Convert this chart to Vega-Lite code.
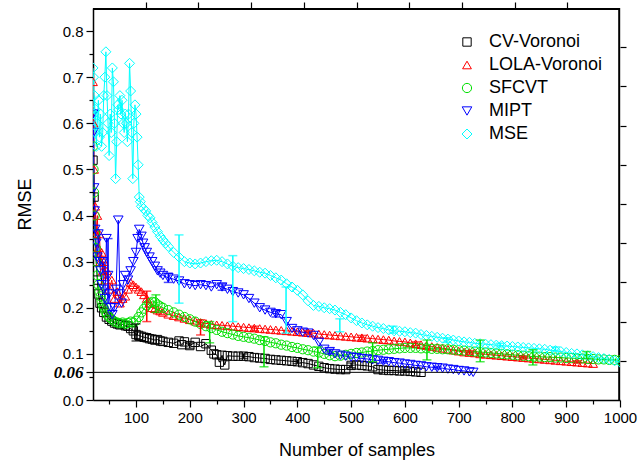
{
"$schema":"https://vega.github.io/schema/vega-lite/v6.json",
"width":527,"height":392,
"autosize":{"type":"none"},
"padding":{"left":93,"top":8,"right":24,"bottom":66},
"config":{"font":"Liberation Sans","view":{"stroke":null},"axis":{"domainColor":"black","tickColor":"black","labelColor":"black","titleColor":"black","domainWidth":1.5,"tickWidth":1.2,"grid":false}},
"datasets":{
"pts":[
{"s":"CV-Voronoi","n":20,"r":0.52},{"s":"CV-Voronoi","n":22,"r":0.44},{"s":"CV-Voronoi","n":24,"r":0.36},{"s":"CV-Voronoi","n":26,"r":0.3},{"s":"CV-Voronoi","n":28,"r":0.26},{"s":"CV-Voronoi","n":30,"r":0.23},{"s":"CV-Voronoi","n":33,"r":0.21},{"s":"CV-Voronoi","n":36,"r":0.2},{"s":"CV-Voronoi","n":40,"r":0.19},{"s":"CV-Voronoi","n":45,"r":0.18},{"s":"CV-Voronoi","n":50,"r":0.175},{"s":"CV-Voronoi","n":55,"r":0.171},{"s":"CV-Voronoi","n":60,"r":0.167},{"s":"CV-Voronoi","n":65,"r":0.165},{"s":"CV-Voronoi","n":70,"r":0.163},{"s":"CV-Voronoi","n":75,"r":0.164},{"s":"CV-Voronoi","n":80,"r":0.161},{"s":"CV-Voronoi","n":85,"r":0.16},{"s":"CV-Voronoi","n":90,"r":0.155},{"s":"CV-Voronoi","n":95,"r":0.15},{"s":"CV-Voronoi","n":100,"r":0.142},{"s":"CV-Voronoi","n":105,"r":0.14},{"s":"CV-Voronoi","n":110,"r":0.138},{"s":"CV-Voronoi","n":115,"r":0.136},{"s":"CV-Voronoi","n":120,"r":0.135},{"s":"CV-Voronoi","n":125,"r":0.133},{"s":"CV-Voronoi","n":130,"r":0.132},{"s":"CV-Voronoi","n":135,"r":0.13},{"s":"CV-Voronoi","n":140,"r":0.131},{"s":"CV-Voronoi","n":145,"r":0.128},{"s":"CV-Voronoi","n":150,"r":0.127},{"s":"CV-Voronoi","n":160,"r":0.125},{"s":"CV-Voronoi","n":170,"r":0.123},{"s":"CV-Voronoi","n":180,"r":0.128},{"s":"CV-Voronoi","n":185,"r":0.12},{"s":"CV-Voronoi","n":190,"r":0.126},{"s":"CV-Voronoi","n":200,"r":0.118},{"s":"CV-Voronoi","n":210,"r":0.125},{"s":"CV-Voronoi","n":220,"r":0.116},{"s":"CV-Voronoi","n":230,"r":0.122},{"s":"CV-Voronoi","n":240,"r":0.108},{"s":"CV-Voronoi","n":245,"r":0.1},{"s":"CV-Voronoi","n":250,"r":0.098},{"s":"CV-Voronoi","n":255,"r":0.082},{"s":"CV-Voronoi","n":260,"r":0.097},{"s":"CV-Voronoi","n":265,"r":0.076},{"s":"CV-Voronoi","n":270,"r":0.096},{"s":"CV-Voronoi","n":280,"r":0.095},{"s":"CV-Voronoi","n":290,"r":0.095},{"s":"CV-Voronoi","n":300,"r":0.095},{"s":"CV-Voronoi","n":310,"r":0.094},{"s":"CV-Voronoi","n":320,"r":0.092},{"s":"CV-Voronoi","n":330,"r":0.091},{"s":"CV-Voronoi","n":340,"r":0.09},{"s":"CV-Voronoi","n":350,"r":0.088},{"s":"CV-Voronoi","n":360,"r":0.087},{"s":"CV-Voronoi","n":370,"r":0.086},{"s":"CV-Voronoi","n":380,"r":0.085},{"s":"CV-Voronoi","n":390,"r":0.084},{"s":"CV-Voronoi","n":400,"r":0.083},{"s":"CV-Voronoi","n":410,"r":0.081},{"s":"CV-Voronoi","n":420,"r":0.079},{"s":"CV-Voronoi","n":430,"r":0.076},{"s":"CV-Voronoi","n":440,"r":0.073},{"s":"CV-Voronoi","n":450,"r":0.07},{"s":"CV-Voronoi","n":460,"r":0.068},{"s":"CV-Voronoi","n":470,"r":0.067},{"s":"CV-Voronoi","n":480,"r":0.066},{"s":"CV-Voronoi","n":490,"r":0.066},{"s":"CV-Voronoi","n":500,"r":0.075},{"s":"CV-Voronoi","n":510,"r":0.076},{"s":"CV-Voronoi","n":520,"r":0.075},{"s":"CV-Voronoi","n":530,"r":0.074},{"s":"CV-Voronoi","n":540,"r":0.072},{"s":"CV-Voronoi","n":550,"r":0.066},{"s":"CV-Voronoi","n":560,"r":0.065},{"s":"CV-Voronoi","n":570,"r":0.064},{"s":"CV-Voronoi","n":580,"r":0.064},{"s":"CV-Voronoi","n":590,"r":0.063},{"s":"CV-Voronoi","n":600,"r":0.063},{"s":"CV-Voronoi","n":610,"r":0.062},{"s":"CV-Voronoi","n":620,"r":0.061},{"s":"CV-Voronoi","n":630,"r":0.06},
{"s":"LOLA-Voronoi","n":20,"r":0.69},{"s":"LOLA-Voronoi","n":21,"r":0.6},{"s":"LOLA-Voronoi","n":22,"r":0.5},{"s":"LOLA-Voronoi","n":24,"r":0.42},{"s":"LOLA-Voronoi","n":26,"r":0.36},{"s":"LOLA-Voronoi","n":28,"r":0.4},{"s":"LOLA-Voronoi","n":30,"r":0.33},{"s":"LOLA-Voronoi","n":32,"r":0.36},{"s":"LOLA-Voronoi","n":34,"r":0.3},{"s":"LOLA-Voronoi","n":36,"r":0.32},{"s":"LOLA-Voronoi","n":38,"r":0.28},{"s":"LOLA-Voronoi","n":40,"r":0.3},{"s":"LOLA-Voronoi","n":43,"r":0.26},{"s":"LOLA-Voronoi","n":46,"r":0.28},{"s":"LOLA-Voronoi","n":50,"r":0.24},{"s":"LOLA-Voronoi","n":55,"r":0.26},{"s":"LOLA-Voronoi","n":60,"r":0.22},{"s":"LOLA-Voronoi","n":65,"r":0.235},{"s":"LOLA-Voronoi","n":70,"r":0.21},{"s":"LOLA-Voronoi","n":75,"r":0.22},{"s":"LOLA-Voronoi","n":80,"r":0.225},{"s":"LOLA-Voronoi","n":85,"r":0.24},{"s":"LOLA-Voronoi","n":90,"r":0.255},{"s":"LOLA-Voronoi","n":95,"r":0.25},{"s":"LOLA-Voronoi","n":100,"r":0.245},{"s":"LOLA-Voronoi","n":105,"r":0.24},{"s":"LOLA-Voronoi","n":110,"r":0.235},{"s":"LOLA-Voronoi","n":115,"r":0.228},{"s":"LOLA-Voronoi","n":120,"r":0.22},{"s":"LOLA-Voronoi","n":125,"r":0.21},{"s":"LOLA-Voronoi","n":130,"r":0.2},{"s":"LOLA-Voronoi","n":135,"r":0.198},{"s":"LOLA-Voronoi","n":140,"r":0.195},{"s":"LOLA-Voronoi","n":145,"r":0.193},{"s":"LOLA-Voronoi","n":150,"r":0.19},{"s":"LOLA-Voronoi","n":160,"r":0.186},{"s":"LOLA-Voronoi","n":170,"r":0.183},{"s":"LOLA-Voronoi","n":180,"r":0.18},{"s":"LOLA-Voronoi","n":190,"r":0.177},{"s":"LOLA-Voronoi","n":200,"r":0.174},{"s":"LOLA-Voronoi","n":210,"r":0.171},{"s":"LOLA-Voronoi","n":220,"r":0.168},{"s":"LOLA-Voronoi","n":230,"r":0.166},{"s":"LOLA-Voronoi","n":240,"r":0.164},{"s":"LOLA-Voronoi","n":250,"r":0.163},{"s":"LOLA-Voronoi","n":260,"r":0.162},{"s":"LOLA-Voronoi","n":270,"r":0.161},{"s":"LOLA-Voronoi","n":280,"r":0.16},{"s":"LOLA-Voronoi","n":290,"r":0.159},{"s":"LOLA-Voronoi","n":300,"r":0.158},{"s":"LOLA-Voronoi","n":310,"r":0.157},{"s":"LOLA-Voronoi","n":320,"r":0.156},{"s":"LOLA-Voronoi","n":330,"r":0.155},{"s":"LOLA-Voronoi","n":340,"r":0.154},{"s":"LOLA-Voronoi","n":350,"r":0.153},{"s":"LOLA-Voronoi","n":360,"r":0.152},{"s":"LOLA-Voronoi","n":370,"r":0.151},{"s":"LOLA-Voronoi","n":380,"r":0.15},{"s":"LOLA-Voronoi","n":390,"r":0.149},{"s":"LOLA-Voronoi","n":400,"r":0.148},{"s":"LOLA-Voronoi","n":410,"r":0.147},{"s":"LOLA-Voronoi","n":420,"r":0.146},{"s":"LOLA-Voronoi","n":430,"r":0.145},{"s":"LOLA-Voronoi","n":440,"r":0.143},{"s":"LOLA-Voronoi","n":450,"r":0.142},{"s":"LOLA-Voronoi","n":460,"r":0.141},{"s":"LOLA-Voronoi","n":470,"r":0.14},{"s":"LOLA-Voronoi","n":480,"r":0.139},{"s":"LOLA-Voronoi","n":490,"r":0.138},{"s":"LOLA-Voronoi","n":500,"r":0.137},{"s":"LOLA-Voronoi","n":510,"r":0.136},{"s":"LOLA-Voronoi","n":520,"r":0.135},{"s":"LOLA-Voronoi","n":530,"r":0.134},{"s":"LOLA-Voronoi","n":540,"r":0.133},{"s":"LOLA-Voronoi","n":550,"r":0.132},{"s":"LOLA-Voronoi","n":560,"r":0.131},{"s":"LOLA-Voronoi","n":570,"r":0.13},{"s":"LOLA-Voronoi","n":580,"r":0.128},{"s":"LOLA-Voronoi","n":590,"r":0.127},{"s":"LOLA-Voronoi","n":600,"r":0.126},{"s":"LOLA-Voronoi","n":610,"r":0.124},{"s":"LOLA-Voronoi","n":620,"r":0.122},{"s":"LOLA-Voronoi","n":630,"r":0.12},{"s":"LOLA-Voronoi","n":640,"r":0.118},{"s":"LOLA-Voronoi","n":650,"r":0.116},{"s":"LOLA-Voronoi","n":660,"r":0.114},{"s":"LOLA-Voronoi","n":670,"r":0.112},{"s":"LOLA-Voronoi","n":680,"r":0.11},{"s":"LOLA-Voronoi","n":690,"r":0.108},{"s":"LOLA-Voronoi","n":700,"r":0.106},{"s":"LOLA-Voronoi","n":710,"r":0.104},{"s":"LOLA-Voronoi","n":720,"r":0.103},{"s":"LOLA-Voronoi","n":730,"r":0.102},{"s":"LOLA-Voronoi","n":740,"r":0.1},{"s":"LOLA-Voronoi","n":750,"r":0.099},{"s":"LOLA-Voronoi","n":760,"r":0.098},{"s":"LOLA-Voronoi","n":770,"r":0.097},{"s":"LOLA-Voronoi","n":780,"r":0.096},{"s":"LOLA-Voronoi","n":790,"r":0.095},{"s":"LOLA-Voronoi","n":800,"r":0.094},{"s":"LOLA-Voronoi","n":810,"r":0.093},{"s":"LOLA-Voronoi","n":820,"r":0.092},{"s":"LOLA-Voronoi","n":830,"r":0.091},{"s":"LOLA-Voronoi","n":840,"r":0.09},{"s":"LOLA-Voronoi","n":850,"r":0.089},{"s":"LOLA-Voronoi","n":860,"r":0.088},{"s":"LOLA-Voronoi","n":870,"r":0.087},{"s":"LOLA-Voronoi","n":880,"r":0.086},{"s":"LOLA-Voronoi","n":890,"r":0.085},{"s":"LOLA-Voronoi","n":900,"r":0.084},{"s":"LOLA-Voronoi","n":910,"r":0.083},{"s":"LOLA-Voronoi","n":920,"r":0.082},{"s":"LOLA-Voronoi","n":930,"r":0.081},{"s":"LOLA-Voronoi","n":940,"r":0.08},{"s":"LOLA-Voronoi","n":950,"r":0.079},
{"s":"SFCVT","n":20,"r":0.55},{"s":"SFCVT","n":21,"r":0.5},{"s":"SFCVT","n":22,"r":0.45},{"s":"SFCVT","n":23,"r":0.4},{"s":"SFCVT","n":24,"r":0.36},{"s":"SFCVT","n":25,"r":0.33},{"s":"SFCVT","n":26,"r":0.3},{"s":"SFCVT","n":28,"r":0.27},{"s":"SFCVT","n":30,"r":0.25},{"s":"SFCVT","n":32,"r":0.235},{"s":"SFCVT","n":34,"r":0.225},{"s":"SFCVT","n":36,"r":0.215},{"s":"SFCVT","n":38,"r":0.205},{"s":"SFCVT","n":40,"r":0.2},{"s":"SFCVT","n":43,"r":0.192},{"s":"SFCVT","n":46,"r":0.185},{"s":"SFCVT","n":50,"r":0.18},{"s":"SFCVT","n":55,"r":0.175},{"s":"SFCVT","n":60,"r":0.17},{"s":"SFCVT","n":65,"r":0.168},{"s":"SFCVT","n":70,"r":0.166},{"s":"SFCVT","n":75,"r":0.168},{"s":"SFCVT","n":80,"r":0.165},{"s":"SFCVT","n":85,"r":0.167},{"s":"SFCVT","n":90,"r":0.17},{"s":"SFCVT","n":95,"r":0.168},{"s":"SFCVT","n":100,"r":0.172},{"s":"SFCVT","n":105,"r":0.18},{"s":"SFCVT","n":110,"r":0.19},{"s":"SFCVT","n":115,"r":0.198},{"s":"SFCVT","n":120,"r":0.205},{"s":"SFCVT","n":125,"r":0.21},{"s":"SFCVT","n":130,"r":0.213},{"s":"SFCVT","n":135,"r":0.212},{"s":"SFCVT","n":140,"r":0.207},{"s":"SFCVT","n":145,"r":0.203},{"s":"SFCVT","n":150,"r":0.2},{"s":"SFCVT","n":160,"r":0.195},{"s":"SFCVT","n":170,"r":0.19},{"s":"SFCVT","n":180,"r":0.185},{"s":"SFCVT","n":190,"r":0.18},{"s":"SFCVT","n":200,"r":0.175},{"s":"SFCVT","n":210,"r":0.17},{"s":"SFCVT","n":220,"r":0.165},{"s":"SFCVT","n":230,"r":0.16},{"s":"SFCVT","n":240,"r":0.156},{"s":"SFCVT","n":250,"r":0.152},{"s":"SFCVT","n":260,"r":0.148},{"s":"SFCVT","n":270,"r":0.145},{"s":"SFCVT","n":280,"r":0.142},{"s":"SFCVT","n":290,"r":0.139},{"s":"SFCVT","n":300,"r":0.137},{"s":"SFCVT","n":310,"r":0.135},{"s":"SFCVT","n":320,"r":0.133},{"s":"SFCVT","n":330,"r":0.13},{"s":"SFCVT","n":340,"r":0.128},{"s":"SFCVT","n":350,"r":0.125},{"s":"SFCVT","n":360,"r":0.123},{"s":"SFCVT","n":370,"r":0.12},{"s":"SFCVT","n":380,"r":0.118},{"s":"SFCVT","n":390,"r":0.115},{"s":"SFCVT","n":400,"r":0.113},{"s":"SFCVT","n":410,"r":0.11},{"s":"SFCVT","n":420,"r":0.108},{"s":"SFCVT","n":430,"r":0.105},{"s":"SFCVT","n":440,"r":0.103},{"s":"SFCVT","n":450,"r":0.1},{"s":"SFCVT","n":460,"r":0.097},{"s":"SFCVT","n":470,"r":0.095},{"s":"SFCVT","n":480,"r":0.096},{"s":"SFCVT","n":490,"r":0.098},{"s":"SFCVT","n":500,"r":0.1},{"s":"SFCVT","n":510,"r":0.102},{"s":"SFCVT","n":520,"r":0.103},{"s":"SFCVT","n":530,"r":0.105},{"s":"SFCVT","n":540,"r":0.106},{"s":"SFCVT","n":550,"r":0.108},{"s":"SFCVT","n":560,"r":0.109},{"s":"SFCVT","n":570,"r":0.11},{"s":"SFCVT","n":580,"r":0.111},{"s":"SFCVT","n":590,"r":0.112},{"s":"SFCVT","n":600,"r":0.113},{"s":"SFCVT","n":610,"r":0.113},{"s":"SFCVT","n":620,"r":0.113},{"s":"SFCVT","n":630,"r":0.112},{"s":"SFCVT","n":640,"r":0.112},{"s":"SFCVT","n":650,"r":0.111},{"s":"SFCVT","n":660,"r":0.111},{"s":"SFCVT","n":670,"r":0.11},{"s":"SFCVT","n":680,"r":0.11},{"s":"SFCVT","n":690,"r":0.109},{"s":"SFCVT","n":700,"r":0.108},{"s":"SFCVT","n":710,"r":0.107},{"s":"SFCVT","n":720,"r":0.106},{"s":"SFCVT","n":730,"r":0.105},{"s":"SFCVT","n":740,"r":0.104},{"s":"SFCVT","n":750,"r":0.103},{"s":"SFCVT","n":760,"r":0.102},{"s":"SFCVT","n":770,"r":0.101},{"s":"SFCVT","n":780,"r":0.1},{"s":"SFCVT","n":790,"r":0.099},{"s":"SFCVT","n":800,"r":0.098},{"s":"SFCVT","n":810,"r":0.097},{"s":"SFCVT","n":820,"r":0.096},{"s":"SFCVT","n":830,"r":0.095},{"s":"SFCVT","n":840,"r":0.094},{"s":"SFCVT","n":850,"r":0.094},{"s":"SFCVT","n":860,"r":0.093},{"s":"SFCVT","n":870,"r":0.093},{"s":"SFCVT","n":880,"r":0.092},{"s":"SFCVT","n":890,"r":0.092},{"s":"SFCVT","n":900,"r":0.091},{"s":"SFCVT","n":910,"r":0.091},{"s":"SFCVT","n":920,"r":0.09},{"s":"SFCVT","n":930,"r":0.09},{"s":"SFCVT","n":940,"r":0.089},{"s":"SFCVT","n":950,"r":0.089},{"s":"SFCVT","n":960,"r":0.088},{"s":"SFCVT","n":970,"r":0.088},{"s":"SFCVT","n":980,"r":0.087},{"s":"SFCVT","n":990,"r":0.087},{"s":"SFCVT","n":1000,"r":0.086},
{"s":"MIPT","n":20,"r":0.62},{"s":"MIPT","n":21,"r":0.58},{"s":"MIPT","n":22,"r":0.46},{"s":"MIPT","n":23,"r":0.41},{"s":"MIPT","n":24,"r":0.37},{"s":"MIPT","n":26,"r":0.34},{"s":"MIPT","n":28,"r":0.31},{"s":"MIPT","n":30,"r":0.36},{"s":"MIPT","n":32,"r":0.3},{"s":"MIPT","n":34,"r":0.28},{"s":"MIPT","n":36,"r":0.25},{"s":"MIPT","n":38,"r":0.3},{"s":"MIPT","n":40,"r":0.24},{"s":"MIPT","n":42,"r":0.22},{"s":"MIPT","n":45,"r":0.35},{"s":"MIPT","n":48,"r":0.27},{"s":"MIPT","n":50,"r":0.23},{"s":"MIPT","n":53,"r":0.2},{"s":"MIPT","n":56,"r":0.185},{"s":"MIPT","n":60,"r":0.2},{"s":"MIPT","n":63,"r":0.24},{"s":"MIPT","n":67,"r":0.39},{"s":"MIPT","n":70,"r":0.23},{"s":"MIPT","n":73,"r":0.21},{"s":"MIPT","n":76,"r":0.25},{"s":"MIPT","n":80,"r":0.27},{"s":"MIPT","n":85,"r":0.26},{"s":"MIPT","n":90,"r":0.28},{"s":"MIPT","n":95,"r":0.3},{"s":"MIPT","n":100,"r":0.32},{"s":"MIPT","n":103,"r":0.35},{"s":"MIPT","n":106,"r":0.37},{"s":"MIPT","n":110,"r":0.355},{"s":"MIPT","n":113,"r":0.34},{"s":"MIPT","n":116,"r":0.33},{"s":"MIPT","n":120,"r":0.32},{"s":"MIPT","n":125,"r":0.31},{"s":"MIPT","n":130,"r":0.3},{"s":"MIPT","n":135,"r":0.29},{"s":"MIPT","n":140,"r":0.28},{"s":"MIPT","n":145,"r":0.275},{"s":"MIPT","n":150,"r":0.27},{"s":"MIPT","n":160,"r":0.265},{"s":"MIPT","n":170,"r":0.262},{"s":"MIPT","n":180,"r":0.258},{"s":"MIPT","n":190,"r":0.252},{"s":"MIPT","n":200,"r":0.25},{"s":"MIPT","n":210,"r":0.248},{"s":"MIPT","n":220,"r":0.25},{"s":"MIPT","n":230,"r":0.248},{"s":"MIPT","n":240,"r":0.245},{"s":"MIPT","n":250,"r":0.25},{"s":"MIPT","n":260,"r":0.245},{"s":"MIPT","n":270,"r":0.24},{"s":"MIPT","n":280,"r":0.235},{"s":"MIPT","n":290,"r":0.232},{"s":"MIPT","n":300,"r":0.228},{"s":"MIPT","n":310,"r":0.22},{"s":"MIPT","n":320,"r":0.21},{"s":"MIPT","n":330,"r":0.2},{"s":"MIPT","n":340,"r":0.195},{"s":"MIPT","n":350,"r":0.19},{"s":"MIPT","n":360,"r":0.187},{"s":"MIPT","n":370,"r":0.185},{"s":"MIPT","n":380,"r":0.17},{"s":"MIPT","n":390,"r":0.155},{"s":"MIPT","n":400,"r":0.15},{"s":"MIPT","n":410,"r":0.147},{"s":"MIPT","n":420,"r":0.145},{"s":"MIPT","n":430,"r":0.14},{"s":"MIPT","n":440,"r":0.125},{"s":"MIPT","n":450,"r":0.11},{"s":"MIPT","n":460,"r":0.105},{"s":"MIPT","n":470,"r":0.1},{"s":"MIPT","n":480,"r":0.097},{"s":"MIPT","n":490,"r":0.095},{"s":"MIPT","n":500,"r":0.093},{"s":"MIPT","n":510,"r":0.092},{"s":"MIPT","n":520,"r":0.09},{"s":"MIPT","n":530,"r":0.089},{"s":"MIPT","n":540,"r":0.087},{"s":"MIPT","n":550,"r":0.086},{"s":"MIPT","n":560,"r":0.084},{"s":"MIPT","n":570,"r":0.083},{"s":"MIPT","n":580,"r":0.081},{"s":"MIPT","n":590,"r":0.08},{"s":"MIPT","n":600,"r":0.078},{"s":"MIPT","n":610,"r":0.077},{"s":"MIPT","n":620,"r":0.075},{"s":"MIPT","n":630,"r":0.074},{"s":"MIPT","n":640,"r":0.072},{"s":"MIPT","n":650,"r":0.071},{"s":"MIPT","n":660,"r":0.07},{"s":"MIPT","n":670,"r":0.069},{"s":"MIPT","n":680,"r":0.067},{"s":"MIPT","n":690,"r":0.066},{"s":"MIPT","n":700,"r":0.064},{"s":"MIPT","n":710,"r":0.063},{"s":"MIPT","n":720,"r":0.061},{"s":"MIPT","n":727,"r":0.06},
{"s":"MSE","n":20,"r":0.72},{"s":"MSE","n":21,"r":0.7},{"s":"MSE","n":22,"r":0.62},{"s":"MSE","n":23,"r":0.66},{"s":"MSE","n":24,"r":0.58},{"s":"MSE","n":25,"r":0.63},{"s":"MSE","n":26,"r":0.55},{"s":"MSE","n":28,"r":0.6},{"s":"MSE","n":30,"r":0.65},{"s":"MSE","n":32,"r":0.57},{"s":"MSE","n":34,"r":0.62},{"s":"MSE","n":36,"r":0.55},{"s":"MSE","n":38,"r":0.58},{"s":"MSE","n":40,"r":0.66},{"s":"MSE","n":42,"r":0.7},{"s":"MSE","n":44,"r":0.755},{"s":"MSE","n":46,"r":0.66},{"s":"MSE","n":48,"r":0.6},{"s":"MSE","n":50,"r":0.53},{"s":"MSE","n":52,"r":0.62},{"s":"MSE","n":54,"r":0.58},{"s":"MSE","n":56,"r":0.72},{"s":"MSE","n":58,"r":0.69},{"s":"MSE","n":60,"r":0.6},{"s":"MSE","n":62,"r":0.48},{"s":"MSE","n":64,"r":0.56},{"s":"MSE","n":66,"r":0.64},{"s":"MSE","n":68,"r":0.63},{"s":"MSE","n":70,"r":0.66},{"s":"MSE","n":72,"r":0.62},{"s":"MSE","n":74,"r":0.65},{"s":"MSE","n":76,"r":0.6},{"s":"MSE","n":78,"r":0.58},{"s":"MSE","n":80,"r":0.62},{"s":"MSE","n":82,"r":0.6},{"s":"MSE","n":84,"r":0.56},{"s":"MSE","n":86,"r":0.62},{"s":"MSE","n":88,"r":0.73},{"s":"MSE","n":90,"r":0.67},{"s":"MSE","n":92,"r":0.58},{"s":"MSE","n":94,"r":0.48},{"s":"MSE","n":96,"r":0.6},{"s":"MSE","n":98,"r":0.64},{"s":"MSE","n":100,"r":0.62},{"s":"MSE","n":102,"r":0.57},{"s":"MSE","n":104,"r":0.51},{"s":"MSE","n":106,"r":0.44},{"s":"MSE","n":108,"r":0.43},{"s":"MSE","n":110,"r":0.42},{"s":"MSE","n":114,"r":0.415},{"s":"MSE","n":118,"r":0.41},{"s":"MSE","n":122,"r":0.4},{"s":"MSE","n":126,"r":0.395},{"s":"MSE","n":130,"r":0.385},{"s":"MSE","n":135,"r":0.375},{"s":"MSE","n":140,"r":0.365},{"s":"MSE","n":145,"r":0.355},{"s":"MSE","n":150,"r":0.347},{"s":"MSE","n":155,"r":0.34},{"s":"MSE","n":160,"r":0.333},{"s":"MSE","n":170,"r":0.32},{"s":"MSE","n":180,"r":0.31},{"s":"MSE","n":190,"r":0.3},{"s":"MSE","n":200,"r":0.297},{"s":"MSE","n":210,"r":0.295},{"s":"MSE","n":220,"r":0.297},{"s":"MSE","n":230,"r":0.3},{"s":"MSE","n":240,"r":0.302},{"s":"MSE","n":250,"r":0.303},{"s":"MSE","n":260,"r":0.3},{"s":"MSE","n":270,"r":0.295},{"s":"MSE","n":280,"r":0.29},{"s":"MSE","n":290,"r":0.287},{"s":"MSE","n":300,"r":0.285},{"s":"MSE","n":310,"r":0.283},{"s":"MSE","n":320,"r":0.28},{"s":"MSE","n":330,"r":0.277},{"s":"MSE","n":340,"r":0.275},{"s":"MSE","n":350,"r":0.27},{"s":"MSE","n":360,"r":0.265},{"s":"MSE","n":370,"r":0.26},{"s":"MSE","n":380,"r":0.252},{"s":"MSE","n":390,"r":0.245},{"s":"MSE","n":400,"r":0.238},{"s":"MSE","n":410,"r":0.228},{"s":"MSE","n":420,"r":0.215},{"s":"MSE","n":430,"r":0.205},{"s":"MSE","n":440,"r":0.203},{"s":"MSE","n":450,"r":0.2},{"s":"MSE","n":460,"r":0.198},{"s":"MSE","n":470,"r":0.195},{"s":"MSE","n":480,"r":0.19},{"s":"MSE","n":490,"r":0.185},{"s":"MSE","n":500,"r":0.178},{"s":"MSE","n":510,"r":0.172},{"s":"MSE","n":520,"r":0.167},{"s":"MSE","n":530,"r":0.163},{"s":"MSE","n":540,"r":0.16},{"s":"MSE","n":550,"r":0.157},{"s":"MSE","n":560,"r":0.155},{"s":"MSE","n":570,"r":0.152},{"s":"MSE","n":580,"r":0.15},{"s":"MSE","n":590,"r":0.149},{"s":"MSE","n":600,"r":0.148},{"s":"MSE","n":610,"r":0.146},{"s":"MSE","n":620,"r":0.145},{"s":"MSE","n":630,"r":0.142},{"s":"MSE","n":640,"r":0.14},{"s":"MSE","n":650,"r":0.138},{"s":"MSE","n":660,"r":0.136},{"s":"MSE","n":670,"r":0.134},{"s":"MSE","n":680,"r":0.132},{"s":"MSE","n":690,"r":0.13},{"s":"MSE","n":700,"r":0.128},{"s":"MSE","n":710,"r":0.126},{"s":"MSE","n":720,"r":0.125},{"s":"MSE","n":730,"r":0.123},{"s":"MSE","n":740,"r":0.122},{"s":"MSE","n":750,"r":0.121},{"s":"MSE","n":760,"r":0.12},{"s":"MSE","n":770,"r":0.119},{"s":"MSE","n":780,"r":0.118},{"s":"MSE","n":790,"r":0.117},{"s":"MSE","n":800,"r":0.116},{"s":"MSE","n":810,"r":0.115},{"s":"MSE","n":820,"r":0.114},{"s":"MSE","n":830,"r":0.113},{"s":"MSE","n":840,"r":0.112},{"s":"MSE","n":850,"r":0.111},{"s":"MSE","n":860,"r":0.11},{"s":"MSE","n":870,"r":0.108},{"s":"MSE","n":880,"r":0.107},{"s":"MSE","n":890,"r":0.105},{"s":"MSE","n":900,"r":0.103},{"s":"MSE","n":910,"r":0.101},{"s":"MSE","n":920,"r":0.1},{"s":"MSE","n":930,"r":0.098},{"s":"MSE","n":940,"r":0.096},{"s":"MSE","n":950,"r":0.094},{"s":"MSE","n":960,"r":0.092},{"s":"MSE","n":970,"r":0.09},{"s":"MSE","n":980,"r":0.088},{"s":"MSE","n":990,"r":0.085},{"s":"MSE","n":1000,"r":0.082}
],
"err":[
{"s":"CV-Voronoi","n":100,"lo":0.128,"hi":0.165},{"s":"CV-Voronoi","n":200,"lo":0.112,"hi":0.124},{"s":"CV-Voronoi","n":300,"lo":0.09,"hi":0.1},{"s":"CV-Voronoi","n":400,"lo":0.079,"hi":0.087},{"s":"CV-Voronoi","n":500,"lo":0.07,"hi":0.08},{"s":"CV-Voronoi","n":600,"lo":0.06,"hi":0.066},
{"s":"LOLA-Voronoi","n":120,"lo":0.17,"hi":0.236},{"s":"LOLA-Voronoi","n":220,"lo":0.141,"hi":0.174},{"s":"LOLA-Voronoi","n":320,"lo":0.15,"hi":0.16},{"s":"LOLA-Voronoi","n":420,"lo":0.142,"hi":0.15},{"s":"LOLA-Voronoi","n":520,"lo":0.13,"hi":0.14},{"s":"LOLA-Voronoi","n":620,"lo":0.118,"hi":0.126},{"s":"LOLA-Voronoi","n":720,"lo":0.099,"hi":0.107},{"s":"LOLA-Voronoi","n":820,"lo":0.089,"hi":0.095},{"s":"LOLA-Voronoi","n":920,"lo":0.08,"hi":0.085},
{"s":"SFCVT","n":137,"lo":0.19,"hi":0.228},{"s":"SFCVT","n":237,"lo":0.124,"hi":0.17},{"s":"SFCVT","n":338,"lo":0.072,"hi":0.137},{"s":"SFCVT","n":438,"lo":0.07,"hi":0.115},{"s":"SFCVT","n":540,"lo":0.083,"hi":0.124},{"s":"SFCVT","n":641,"lo":0.087,"hi":0.13},{"s":"SFCVT","n":740,"lo":0.083,"hi":0.13},{"s":"SFCVT","n":838,"lo":0.076,"hi":0.109},{"s":"SFCVT","n":938,"lo":0.09,"hi":0.105},
{"s":"MIPT","n":48,"lo":0.21,"hi":0.35},{"s":"MIPT","n":160,"lo":0.255,"hi":0.275},{"s":"MIPT","n":260,"lo":0.238,"hi":0.252},{"s":"MIPT","n":360,"lo":0.18,"hi":0.193},{"s":"MIPT","n":460,"lo":0.1,"hi":0.11},{"s":"MIPT","n":560,"lo":0.08,"hi":0.088},{"s":"MIPT","n":660,"lo":0.067,"hi":0.073},
{"s":"MSE","n":180,"lo":0.21,"hi":0.358},{"s":"MSE","n":280,"lo":0.17,"hi":0.313},{"s":"MSE","n":379,"lo":0.145,"hi":0.245},{"s":"MSE","n":479,"lo":0.148,"hi":0.176},{"s":"MSE","n":578,"lo":0.145,"hi":0.16},{"s":"MSE","n":678,"lo":0.125,"hi":0.135},{"s":"MSE","n":777,"lo":0.115,"hi":0.123},{"s":"MSE","n":880,"lo":0.106,"hi":0.115}
]},
"layer":[
{"data":{"values":[{}]},"mark":{"type":"rule","color":"black","strokeWidth":2},
 "encoding":{"y":{"datum":0.848,"type":"quantitative","scale":{"domain":[0,0.85],"nice":false,"zero":false},"axis":null}}},
{"data":{"values":[{}]},"mark":{"type":"rule","color":"black","strokeWidth":2},
 "encoding":{"x":{"datum":998.5,"type":"quantitative","scale":{"domain":[20,1000],"nice":false,"zero":false},"axis":null}}},
{"data":{"name":"pts"},"mark":{"type":"line","strokeWidth":1,"clip":true},
 "encoding":{
  "x":{"field":"n","type":"quantitative","axis":{"orient":"top","title":null,"values":[118,216,314,412,510,608,706,804,902],"labels":false,"tickSize":6,"domain":false,"zindex":1}},
  "y":{"field":"r","type":"quantitative","axis":{"orient":"right","title":null,"values":[0.085,0.17,0.255,0.34,0.425,0.51,0.595,0.68,0.765],"labels":false,"tickSize":6,"domain":false,"zindex":1}},
  "stroke":{"field":"s","type":"nominal","scale":{"range":["#000000","#FF0000","#0000FF","#00FFFF","#00E000"]},"legend":null}}},
{"data":{"name":"pts"},"mark":{"type":"point","filled":false,"strokeWidth":1,"opacity":1,"clip":true},
 "encoding":{
  "x":{"field":"n","type":"quantitative","axis":{"orient":"bottom","title":"Number of samples","format":"d","values":[50,100,150,200,250,300,350,400,450,500,550,600,650,700,750,800,850,900,950,1000],"labelExpr":"datum.value % 100 === 0 ? datum.label : ''","tickSize":{"condition":{"test":"datum.value % 100 !== 0","value":4},"value":7},"labelFontSize":15,"labelPadding":3,"labelFlush":false,"labelOverlap":false,"titleFontSize":18,"titleFontWeight":"normal","titleX":263.5,"titleY":55,"titleBaseline":"alphabetic","titleAlign":"center"}},
  "y":{"field":"r","type":"quantitative","axis":{"orient":"left","title":"RMSE","values":[0,0.05,0.06,0.1,0.15,0.2,0.25,0.3,0.35,0.4,0.45,0.5,0.55,0.6,0.65,0.7,0.75,0.8],"labelExpr":"round(datum.value*100)==6 ? '0.06' : (round(datum.value*100)%10==0 ? format(datum.value,'.1f') : '')","tickSize":{"condition":{"test":"round(datum.value*100)%10==5","value":4},"value":7},"labelFontSize":{"condition":{"test":"round(datum.value*100)==6","value":17},"value":15},"labelFont":{"condition":{"test":"round(datum.value*100)==6","value":"Liberation Serif"},"value":"Liberation Sans"},"labelFontWeight":{"condition":{"test":"round(datum.value*100)==6","value":"bold"},"value":"normal"},"labelFontStyle":{"condition":{"test":"round(datum.value*100)==6","value":"italic"},"value":"normal"},"labelPadding":3,"labelOverlap":false,"labelFlush":false,"titleFontSize":18,"titleFontWeight":"normal","titleX":-68,"titleY":196,"titleAngle":270,"titleAlign":"center","titleBaseline":"middle"}},
  "color":{"field":"s","type":"nominal","scale":{"domain":["CV-Voronoi","LOLA-Voronoi","SFCVT","MIPT","MSE"],"range":["#000000","#FF0000","#00E000","#0000FF","#00FFFF"]},"legend":{"orient":"none","legendX":365,"legendY":25,"title":null,"padding":0,"labelFont":"Liberation Sans","labelFontSize":18,"labelColor":"black","labelOffset":13,"symbolStrokeWidth":1,"symbolFillColor":"transparent","rowPadding":5}},
  "shape":{"field":"s","type":"nominal","scale":{"domain":["CV-Voronoi","LOLA-Voronoi","SFCVT","MIPT","MSE"],"range":["square","triangle-up","circle","triangle-down","diamond"]}},
  "size":{"field":"s","type":"ordinal","scale":{"domain":["CV-Voronoi","LOLA-Voronoi","SFCVT","MIPT","MSE"],"range":[70,100,85,100,130]}}}},
{"data":{"name":"err"},"mark":{"type":"rule","strokeWidth":1.5},
 "encoding":{
  "x":{"field":"n","type":"quantitative","axis":null},
  "y":{"field":"lo","type":"quantitative","axis":null},
  "y2":{"field":"hi"},
  "stroke":{"field":"s","type":"nominal","legend":null}}},
{"data":{"name":"err"},"mark":{"type":"tick","orient":"horizontal","size":9,"thickness":1.5},
 "encoding":{
  "x":{"field":"n","type":"quantitative","axis":null},
  "y":{"field":"lo","type":"quantitative","axis":null},
  "fill":{"field":"s","type":"nominal","scale":{"range":["#000000","#FF0000","#0000FF","#00FFFF","#00E000"]},"legend":null}}},
{"data":{"name":"err"},"mark":{"type":"tick","orient":"horizontal","size":9,"thickness":1.5},
 "encoding":{
  "x":{"field":"n","type":"quantitative","axis":null},
  "y":{"field":"hi","type":"quantitative","axis":null},
  "fill":{"field":"s","type":"nominal","legend":null}}},
{"data":{"values":[{}]},"mark":{"type":"rule","color":"black","strokeWidth":1},
 "encoding":{"y":{"datum":0.06,"type":"quantitative","axis":null}}}
],
"resolve":{"axis":{"x":"independent","y":"independent"}}
}
